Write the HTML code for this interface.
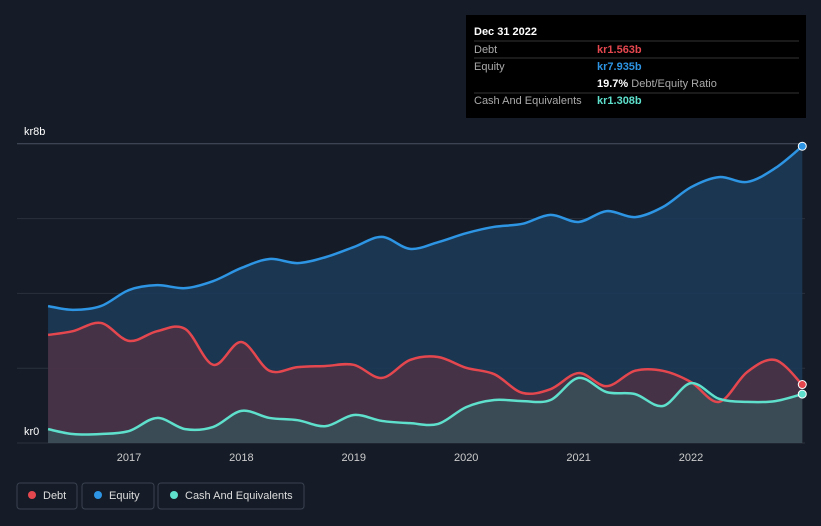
<!DOCTYPE html>
<html><head><meta charset="utf-8"><style>
body{margin:0;background:#151c27;font-family:"Liberation Sans",sans-serif;}
svg{display:block}
</style></head><body>
<svg width="821" height="526">
<rect width="821" height="526" fill="#151c27"/>
<g id="grid"></g>
<g id="areas"></g>
<g id="lines"></g>
<g id="xaxis"></g>
<text x="24" y="135" fill="#fff" font-size="11">kr8b</text>
<text x="24" y="435" fill="#fff" font-size="11">kr0</text>
<g>
<rect x="466" y="15" width="340" height="103" fill="#000"/>
<text x="474" y="35" fill="#fff" font-size="11" font-weight="bold">Dec 31 2022</text>
<line x1="474" y1="41" x2="799" y2="41" stroke="#333"/>
<text x="474" y="53" fill="#aaa" font-size="11">Debt</text>
<text x="597" y="53" fill="#e5474f" font-size="11" font-weight="bold">kr1.563b</text>
<line x1="474" y1="58" x2="799" y2="58" stroke="#333"/>
<text x="474" y="70" fill="#aaa" font-size="11">Equity</text>
<text x="597" y="70" fill="#2d95e3" font-size="11" font-weight="bold">kr7.935b</text>
<text x="597" y="87" fill="#fff" font-size="11"><tspan font-weight="bold">19.7%</tspan><tspan fill="#aaa"> Debt/Equity Ratio</tspan></text>
<line x1="474" y1="93" x2="799" y2="93" stroke="#333"/>
<text x="474" y="104" fill="#aaa" font-size="11">Cash And Equivalents</text>
<text x="597" y="104" fill="#5ee0cc" font-size="11" font-weight="bold">kr1.308b</text>
</g>
<g>
<g><rect x="17" y="483" width="60" height="26" rx="3" fill="none" stroke="#3a4150"/><circle cx="32" cy="495" r="4" fill="#e5474f"/><text x="43" y="499" fill="#ddd" font-size="11">Debt</text></g>
<g><rect x="82" y="483" width="72" height="26" rx="3" fill="none" stroke="#3a4150"/><circle cx="98" cy="495" r="4" fill="#2d95e3"/><text x="109" y="499" fill="#ddd" font-size="11">Equity</text></g>
<g><rect x="158" y="483" width="146" height="26" rx="3" fill="none" stroke="#3a4150"/><circle cx="174" cy="495" r="4" fill="#5ee0cc"/><text x="185" y="499" fill="#ddd" font-size="11">Cash And Equivalents</text></g>
</g>
</svg>
<script>
const dates=[2016.28,2016.5,2016.75,2017,2017.25,2017.5,2017.75,2018,2018.25,2018.5,2018.75,2019,2019.25,2019.5,2019.75,2020,2020.25,2020.5,2020.75,2021,2021.25,2021.5,2021.75,2022,2022.25,2022.5,2022.75,2022.99];
const equity=[3.66,3.56,3.66,4.09,4.22,4.14,4.33,4.68,4.92,4.81,4.97,5.24,5.51,5.19,5.37,5.61,5.78,5.86,6.10,5.91,6.20,6.04,6.31,6.84,7.11,6.98,7.35,7.935];
const debt=[2.89,2.99,3.21,2.73,2.99,3.05,2.09,2.70,1.93,2.03,2.06,2.09,1.74,2.22,2.30,2.01,1.84,1.34,1.44,1.87,1.52,1.93,1.93,1.63,1.10,1.90,2.22,1.563];
const cash=[0.37,0.24,0.24,0.32,0.67,0.37,0.43,0.86,0.67,0.61,0.45,0.75,0.59,0.53,0.51,0.96,1.15,1.12,1.15,1.74,1.36,1.31,0.99,1.60,1.18,1.10,1.12,1.308];
const years=[2017,2018,2019,2020,2021,2022];
const yTicks=[0,2,4,6,8];
const NS="http://www.w3.org/2000/svg";
const X=d=>129+(d-2017)*112.4;
const Y=v=>443-v*37.4;
function mk(tag,attrs,parent){const e=document.createElementNS(NS,tag);for(const k in attrs)e.setAttribute(k,attrs[k]);document.getElementById(parent).appendChild(e);return e;}
yTicks.forEach(t=>{const l=mk('line',{x1:17,x2:805,y1:Y(t),y2:Y(t),stroke:t==8?'#4a5060':'#2a313d','stroke-width':1},'grid');

});
years.forEach(yr=>{const t=mk('text',{x:X(yr),y:461,fill:'#ccc','font-size':11,'text-anchor':'middle'},'xaxis');t.textContent=yr;

});
function path(vals){const p=dates.map((d,i)=>[X(d),Y(vals[i])]);let s=`M${p[0][0]},${p[0][1]}`;
for(let i=0;i<p.length-1;i++){const p0=p[Math.max(0,i-1)],p1=p[i],p2=p[i+1],p3=p[Math.min(p.length-1,i+2)];
const c1=[p1[0]+(p2[0]-p0[0])/6,p1[1]+(p2[1]-p0[1])/6],c2=[p2[0]-(p3[0]-p1[0])/6,p2[1]-(p3[1]-p1[1])/6];
s+=` C${c1[0]},${c1[1]} ${c2[0]},${c2[1]} ${p2[0]},${p2[1]}`;}return s;}
const x0=X(dates[0]),x1=X(dates[dates.length-1]),yb=Y(0);
[[equity,'#1b3a57',0.9,'#2d95e3','equity'],[debt,'#6b2f3e',0.55,'#e5474f','debt'],[cash,'#2f6b6a',0.45,'#5ee0cc','cash']].forEach(([v,fc,op,lc,n])=>{
const a=mk('path',{d:path(v)+` L${x1},${yb} L${x0},${yb} Z`,fill:fc,'fill-opacity':op},'areas');


const l=mk('path',{d:path(v),fill:'none',stroke:lc,'stroke-width':2.5},'lines');


const c=mk('circle',{cx:x1,cy:Y(v[v.length-1]),r:4,fill:lc,stroke:'#fff','stroke-width':1},'lines');

});
</script>
</body></html>
